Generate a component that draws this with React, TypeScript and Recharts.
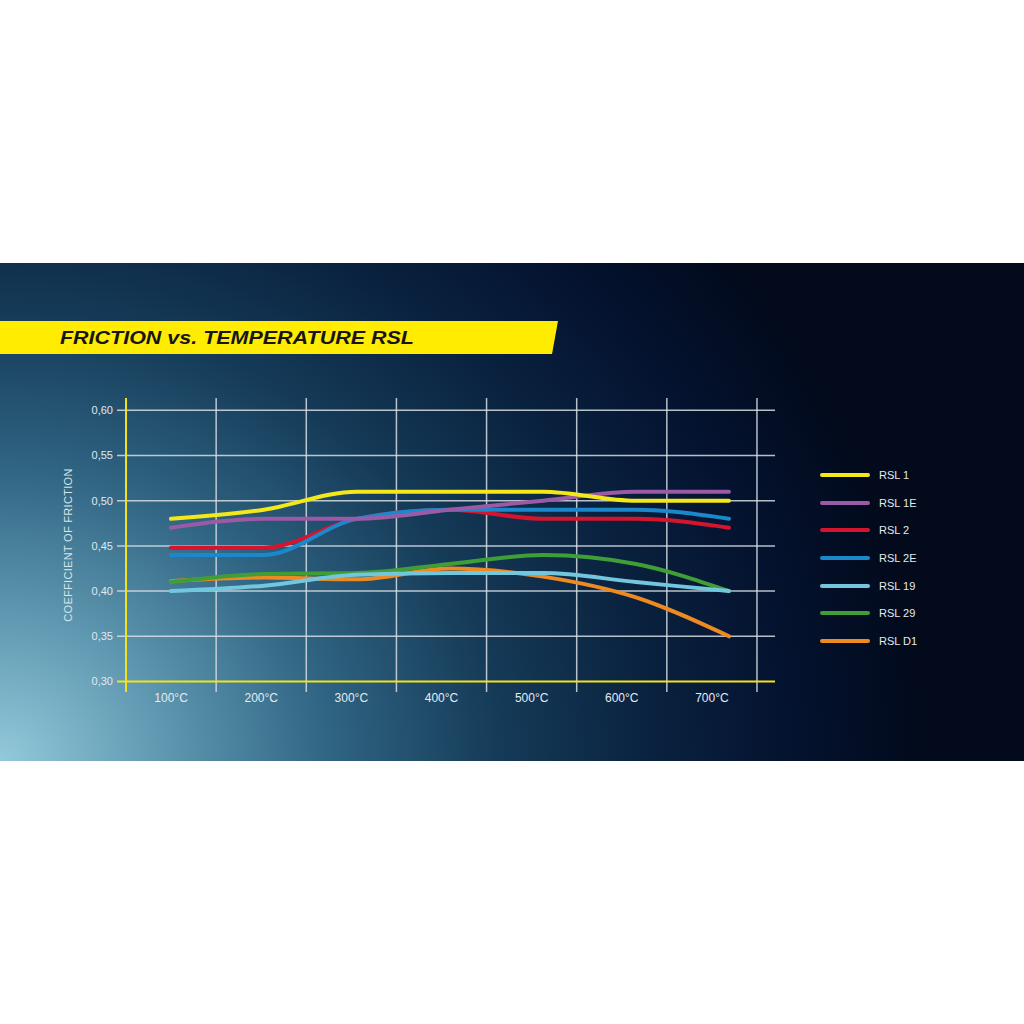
import { CartesianGrid, Line, LineChart, ReferenceLine, XAxis, YAxis } from 'recharts';

// temperatures (°C) and friction coefficients
const temps = [100, 200, 300, 400, 500, 600, 700];
const rsl1 = [0.48, 0.49, 0.51, 0.51, 0.51, 0.5, 0.5];
const rsl1e = [0.47, 0.48, 0.48, 0.49, 0.5, 0.51, 0.51];
const rsl2 = [0.448, 0.448, 0.48, 0.49, 0.48, 0.48, 0.47];
const rsl2e = [0.44, 0.44, 0.48, 0.49, 0.49, 0.49, 0.48];
const rsl19 = [0.4, 0.406, 0.418, 0.42, 0.42, 0.41, 0.4];
const rsl29 = [0.41, 0.419, 0.42, 0.43, 0.44, 0.43, 0.4];
const rslD1 = [0.411, 0.415, 0.413, 0.425, 0.416, 0.393, 0.35];

const yTicks = [0.3, 0.35, 0.4, 0.45, 0.5, 0.55, 0.6];
// grid columns sit between the temperature labels
const gridX = [150, 250, 350, 450, 550, 650, 750];
const gridY = [0.35, 0.4, 0.45, 0.5, 0.55, 0.6];

const X_DOMAIN: [number, number] = [40, 770];
const Y_DOMAIN: [number, number] = [0.2884, 0.6136];

const series = [
  { key: 'RSL 1', values: rsl1, color: '#f4e71a' },
  { key: 'RSL 1E', values: rsl1e, color: '#9a5aa6' },
  { key: 'RSL 2', values: rsl2, color: '#d5142e' },
  { key: 'RSL 2E', values: rsl2e, color: '#1b88cc' },
  { key: 'RSL 19', values: rsl19, color: '#72c7de' },
  { key: 'RSL 29', values: rsl29, color: '#3f9f36' },
  { key: 'RSL D1', values: rslD1, color: '#ee8a22' },
];
// bottom-most first so the upper curves sit on top
const drawOrder = ['RSL D1', 'RSL 29', 'RSL 19', 'RSL 2', 'RSL 2E', 'RSL 1E', 'RSL 1'];

const data = temps.map((t, i) => {
  const row: Record<string, number> = { t };
  series.forEach((s) => (row[s.key] = s.values[i]));
  return row;
});

const FONT = '"Liberation Sans", Arial, Helvetica, sans-serif';
const GRID = 'rgba(215,222,228,0.85)';
const YELLOW = '#f3e21c';

const MARGIN = { top: 398, right: 249, bottom: 302, left: 57 };
const Y_AXIS_W = 60;
const X_AXIS_H = 30;

// map a value through the axis scale handed to the grid, or its domain/offset if no scale comes along
function toPx(axis: any, v: number, dom: [number, number], start: number, size: number, flip: boolean) {
  const s = axis?.scale;
  if (typeof s === 'function') return s(v);
  if (s && typeof s.map === 'function') return s.map(v);
  const f = (v - dom[0]) / (dom[1] - dom[0]);
  return flip ? start + size * (1 - f) : start + size * f;
}

function Legend() {
  return (
    <div style={{ position: 'absolute', left: 820, top: 461, fontFamily: FONT }}>
      {series.map((s) => (
        <div key={s.key} style={{ display: 'flex', alignItems: 'center', height: 27.7 }}>
          <span
            style={{
              display: 'inline-block',
              width: 50,
              height: 4,
              borderRadius: 2,
              background: s.color,
              marginRight: 9,
            }}
          />
          <span style={{ fontSize: 11, color: '#e4eaf0' }}>{s.key}</span>
        </div>
      ))}
    </div>
  );
}

export default function App() {
  const byKey = Object.fromEntries(series.map((s) => [s.key, s]));
  const W = 1024;
  const H = 1024;
  const plotLeft = MARGIN.left + Y_AXIS_W;
  const plotW = W - plotLeft - MARGIN.right;
  const plotTop = MARGIN.top;
  const plotH = H - MARGIN.top - MARGIN.bottom - X_AXIS_H;

  return (
    <div
      style={{
        position: 'absolute',
        left: 0,
        top: 0,
        width: 1024,
        height: 1024,
        background: '#fff',
        overflow: 'hidden',
      }}
    >
      <div
        style={{
          position: 'absolute',
          left: 0,
          top: 263,
          width: 1024,
          height: 498,
          background:
            'radial-gradient(ellipse 90% 165% at 0% 100%, #93c9da 0%, #5e97b0 18%, #2f6482 36%, #153b58 54%, #0a2340 70%, #041330 85%, #020a1c 100%)',
        }}
      />
      <div
        style={{
          position: 'absolute',
          left: 0,
          top: 321,
          width: 558,
          height: 33,
          background: '#ffec00',
          clipPath: 'polygon(0 0, 558px 0, 552px 100%, 0 100%)',
        }}
      >
        <span
          style={{
            position: 'absolute',
            left: 60,
            top: 0,
            lineHeight: '33px',
            fontFamily: FONT,
            fontWeight: 700,
            fontStyle: 'italic',
            fontSize: 19,
            color: '#161616',
            whiteSpace: 'nowrap',
            transform: 'scaleX(1.13)',
            transformOrigin: 'left center',
          }}
        >
          FRICTION vs. TEMPERATURE RSL
        </span>
      </div>

      <div style={{ position: 'absolute', left: 0, top: 0 }}>
        <LineChart width={W} height={H} data={data} margin={MARGIN}>
          <CartesianGrid
            stroke={GRID}
            strokeWidth={1.5}
            verticalCoordinatesGenerator={({ xAxis }: any) =>
              gridX.map((v) => toPx(xAxis, v, X_DOMAIN, plotLeft, plotW, false))
            }
            horizontalCoordinatesGenerator={({ yAxis }: any) =>
              gridY.map((v) => toPx(yAxis, v, Y_DOMAIN, plotTop, plotH, true))
            }
          />
          <XAxis
            type="number"
            dataKey="t"
            domain={X_DOMAIN}
            allowDataOverflow
            ticks={temps}
            tickFormatter={(v) => `${v}°C`}
            axisLine={false}
            tickLine={false}
            tickSize={0}
            tickMargin={1}
            height={X_AXIS_H}
            tick={{ fill: '#e6ebf0', fontSize: 12, fontFamily: FONT }}
          />
          <XAxis
            xAxisId="data"
            type="number"
            dataKey="t"
            domain={[42, 749.5]}
            allowDataOverflow
            hide
          />
          <YAxis
            type="number"
            domain={Y_DOMAIN}
            allowDataOverflow
            ticks={yTicks}
            tickFormatter={(v) => v.toFixed(2).replace('.', ',')}
            axisLine={false}
            tickLine={false}
            tickSize={0}
            tickMargin={4}
            width={Y_AXIS_W}
            tick={{ fill: '#e2e8ee', fontSize: 11, fontFamily: FONT }}
            label={{
              value: 'COEFFICIENT OF FRICTION',
              angle: -90,
              position: 'insideLeft',
              offset: 11,
              style: {
                textAnchor: 'middle',
                fill: '#d5e6ec',
                fontSize: 11,
                letterSpacing: 0.3,
                fontFamily: FONT,
              },
            }}
          />
          <ReferenceLine x={50} stroke={YELLOW} strokeWidth={2} />
          <ReferenceLine y={0.3} stroke={YELLOW} strokeWidth={2} />
          {drawOrder.map((k) => (
            <Line
              key={k}
              xAxisId="data"
              type="monotone"
              dataKey={k}
              stroke={byKey[k].color}
              strokeWidth={4}
              strokeLinecap="round"
              dot={false}
              activeDot={false}
              isAnimationActive={false}
            />
          ))}
        </LineChart>
      </div>
      <Legend />
    </div>
  );
}
